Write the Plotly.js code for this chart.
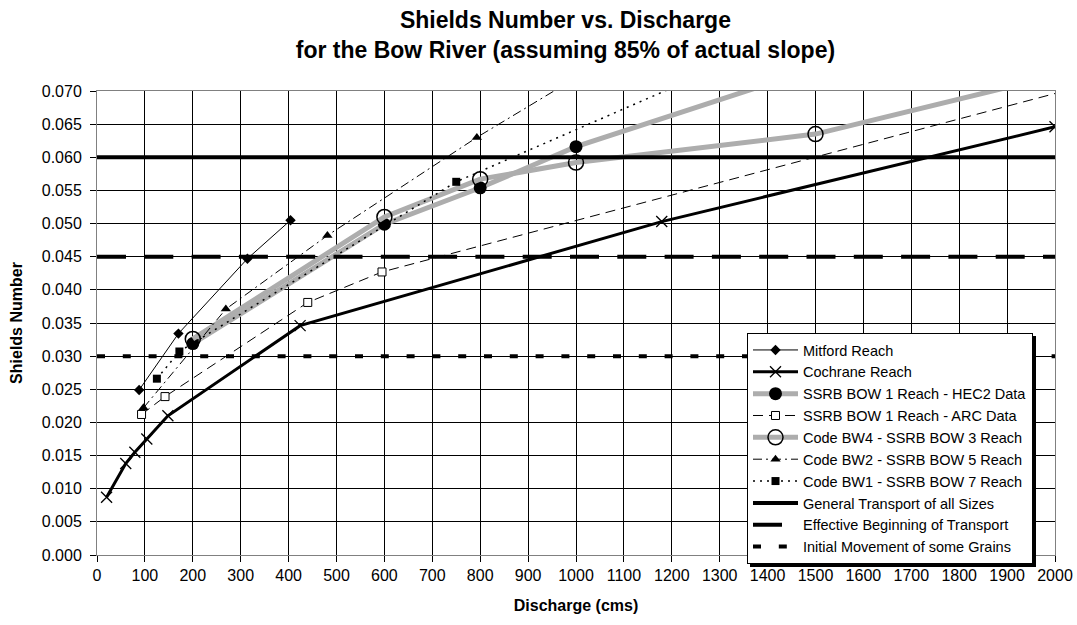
<!DOCTYPE html>
<html>
<head>
<meta charset="utf-8">
<script src="https://cdn.plot.ly/plotly-3.0.1.min.js"></script>
<style>html,body{margin:0;padding:0;background:#fff;}#chart{width:1077px;height:625px;}</style>
</head>
<body>
<div id="chart"></div>
<script>
// ---- Data ----
const seriesNames = [
  "Mitford Reach",
  "Cochrane Reach",
  "SSRB BOW 1 Reach - HEC2 Data",
  "SSRB BOW 1 Reach - ARC Data",
  "Code BW4 - SSRB BOW 3 Reach",
  "Code BW2 - SSRB BOW 5 Reach",
  "Code BW1 - SSRB BOW 7 Reach",
  "General Transport of all Sizes",
  "Effective Beginning of Transport",
  "Initial Movement of some Grains"
];
const mitfordQ = [88, 170, 314, 404];
const mitfordS = [0.0249, 0.0334, 0.0447, 0.0505];
const cochraneQ = [20, 60, 79, 104, 148, 424, 1179, 2000];
const cochraneS = [0.0087, 0.0138, 0.0155, 0.0175, 0.0210, 0.0346, 0.0503, 0.0646];
const hec2Q = [200, 600, 800, 1000, 1500];
const hec2S = [0.0319, 0.0499, 0.0554, 0.0616, 0.0734];
const arcQ = [93, 142, 440, 595, 2500];
const arcS = [0.0212, 0.0239, 0.0381, 0.0427, 0.0792];
const bw4Q = [200, 600, 800, 1000, 1500, 2000];
const bw4S = [0.0326, 0.0510, 0.0567, 0.0592, 0.0635, 0.0723];
const bw2Q = [97, 269, 481, 793, 1000];
const bw2S = [0.0222, 0.0371, 0.0482, 0.0630, 0.0720];
const bw1Q = [125, 172, 750, 1500];
const bw1S = [0.0266, 0.0307, 0.0563, 0.0799];
const thresholdQ = [0, 2000];
const generalS = [0.060, 0.060];
const effectiveS = [0.045, 0.045];
const initialS = [0.030, 0.030];
const xTickVals = [0,100,200,300,400,500,600,700,800,900,1000,1100,1200,1300,1400,1500,1600,1700,1800,1900,2000];
const yTickVals = [0,0.005,0.010,0.015,0.020,0.025,0.030,0.035,0.040,0.045,0.050,0.055,0.060,0.065,0.070];

const FONT = "Liberation Sans, Arial, sans-serif";
const GRAY = "#adadad";

const traces = [
  {x: mitfordQ, y: mitfordS, name: seriesNames[0], mode: "lines+markers",
   line: {color: "#000", width: 1}, marker: {symbol: "diamond", size: 8, color: "#000"}},
  {x: cochraneQ, y: cochraneS, name: seriesNames[1], mode: "lines+markers",
   line: {color: "#000", width: 3}, marker: {symbol: "x-thin-open", size: 11, line: {color: "#000", width: 1.3}}},
  {x: hec2Q, y: hec2S, name: seriesNames[2], mode: "lines+markers",
   line: {color: GRAY, width: 5}, marker: {symbol: "circle", size: 13, color: "#000"}},
  {x: arcQ, y: arcS, name: seriesNames[3], mode: "lines+markers",
   line: {color: "#000", width: 1, dash: "10px,6px"}, marker: {symbol: "square", size: 8, color: "#fff", line: {color: "#000", width: 1}}},
  {x: bw4Q, y: bw4S, name: seriesNames[4], mode: "lines+markers",
   line: {color: GRAY, width: 5}, marker: {symbol: "circle-open", size: 15, color: "#000", line: {color: "#000", width: 1.5}}},
  {x: bw2Q, y: bw2S, name: seriesNames[5], mode: "lines+markers",
   line: {color: "#000", width: 1, dash: "9px,4px,2px,4px"}, marker: {symbol: "triangle-up", size: 9, color: "#000"}},
  {x: bw1Q, y: bw1S, name: seriesNames[6], mode: "lines+markers",
   line: {color: "#000", width: 1.5, dash: "2px,5px"}, marker: {symbol: "square", size: 8, color: "#000"}},
  {x: thresholdQ, y: generalS, name: seriesNames[7], mode: "lines",
   line: {color: "#000", width: 4}},
  {x: thresholdQ, y: effectiveS, name: seriesNames[8], mode: "lines",
   line: {color: "#000", width: 4, dash: "29px,18.3px"}},
  {x: thresholdQ, y: initialS, name: seriesNames[9], mode: "lines",
   line: {color: "#000", width: 4, dash: "8px,17.8px"}}
];

const layout = {
  width: 1077, height: 625,
  paper_bgcolor: "#fff", plot_bgcolor: "#fff",
  margin: {l: 97, r: 22, t: 91, b: 70, pad: 0},
  font: {family: FONT, color: "#000", size: 16},
  title: {
    text: "<b>Shields Number vs. Discharge<br>for the Bow River (assuming 85% of actual slope)</b>",
    font: {family: FONT, size: 23, color: "#000"},
    x: 0.525, xref: "container", xanchor: "center", y: 0.955, yref: "container", yanchor: "top"
  },
  xaxis: {
    range: [0, 2000], tickvals: xTickVals, ticktext: xTickVals.map(String),
    showgrid: true, gridcolor: "#000", gridwidth: 1,
    showline: true, linecolor: "#808080", linewidth: 1, mirror: true,
    ticks: "outside", ticklen: 6, tickcolor: "#000",
    tickfont: {family: FONT, size: 16},
    zeroline: false,
    title: {text: "<b>Discharge (cms)</b>", font: {family: FONT, size: 16}, standoff: 16}
  },
  yaxis: {
    range: [0, 0.070], tickvals: yTickVals, ticktext: yTickVals.map(v => v.toFixed(3)),
    showgrid: true, gridcolor: "#000", gridwidth: 1,
    showline: true, linecolor: "#808080", linewidth: 1, mirror: true,
    ticks: "outside", ticklen: 6, tickcolor: "#000",
    tickfont: {family: FONT, size: 16},
    ticklabelstandoff: 5,
    zeroline: false,
    title: {text: "<b>Shields Number</b>", font: {family: FONT, size: 16}, standoff: 15}
  },
  showlegend: true,
  legend: {
    x: 0.6785, y: 0.4784, xanchor: "left", yanchor: "top",
    bgcolor: "#fff", bordercolor: "#000", borderwidth: 1,
    font: {family: FONT, size: 14.5, color: "#000"},
    itemwidth: 45,
    traceorder: "normal"
  }
};

Plotly.newPlot("chart", traces, layout, {displayModeBar: false, staticPlot: true}).then(function () {
  // drop shadow on the legend box, as in the reference
  document.querySelectorAll(".legend .bg").forEach(function (el) {
    el.style.filter = "drop-shadow(3px 3px 0 #000)";
  });
});
</script>
</body>
</html>
